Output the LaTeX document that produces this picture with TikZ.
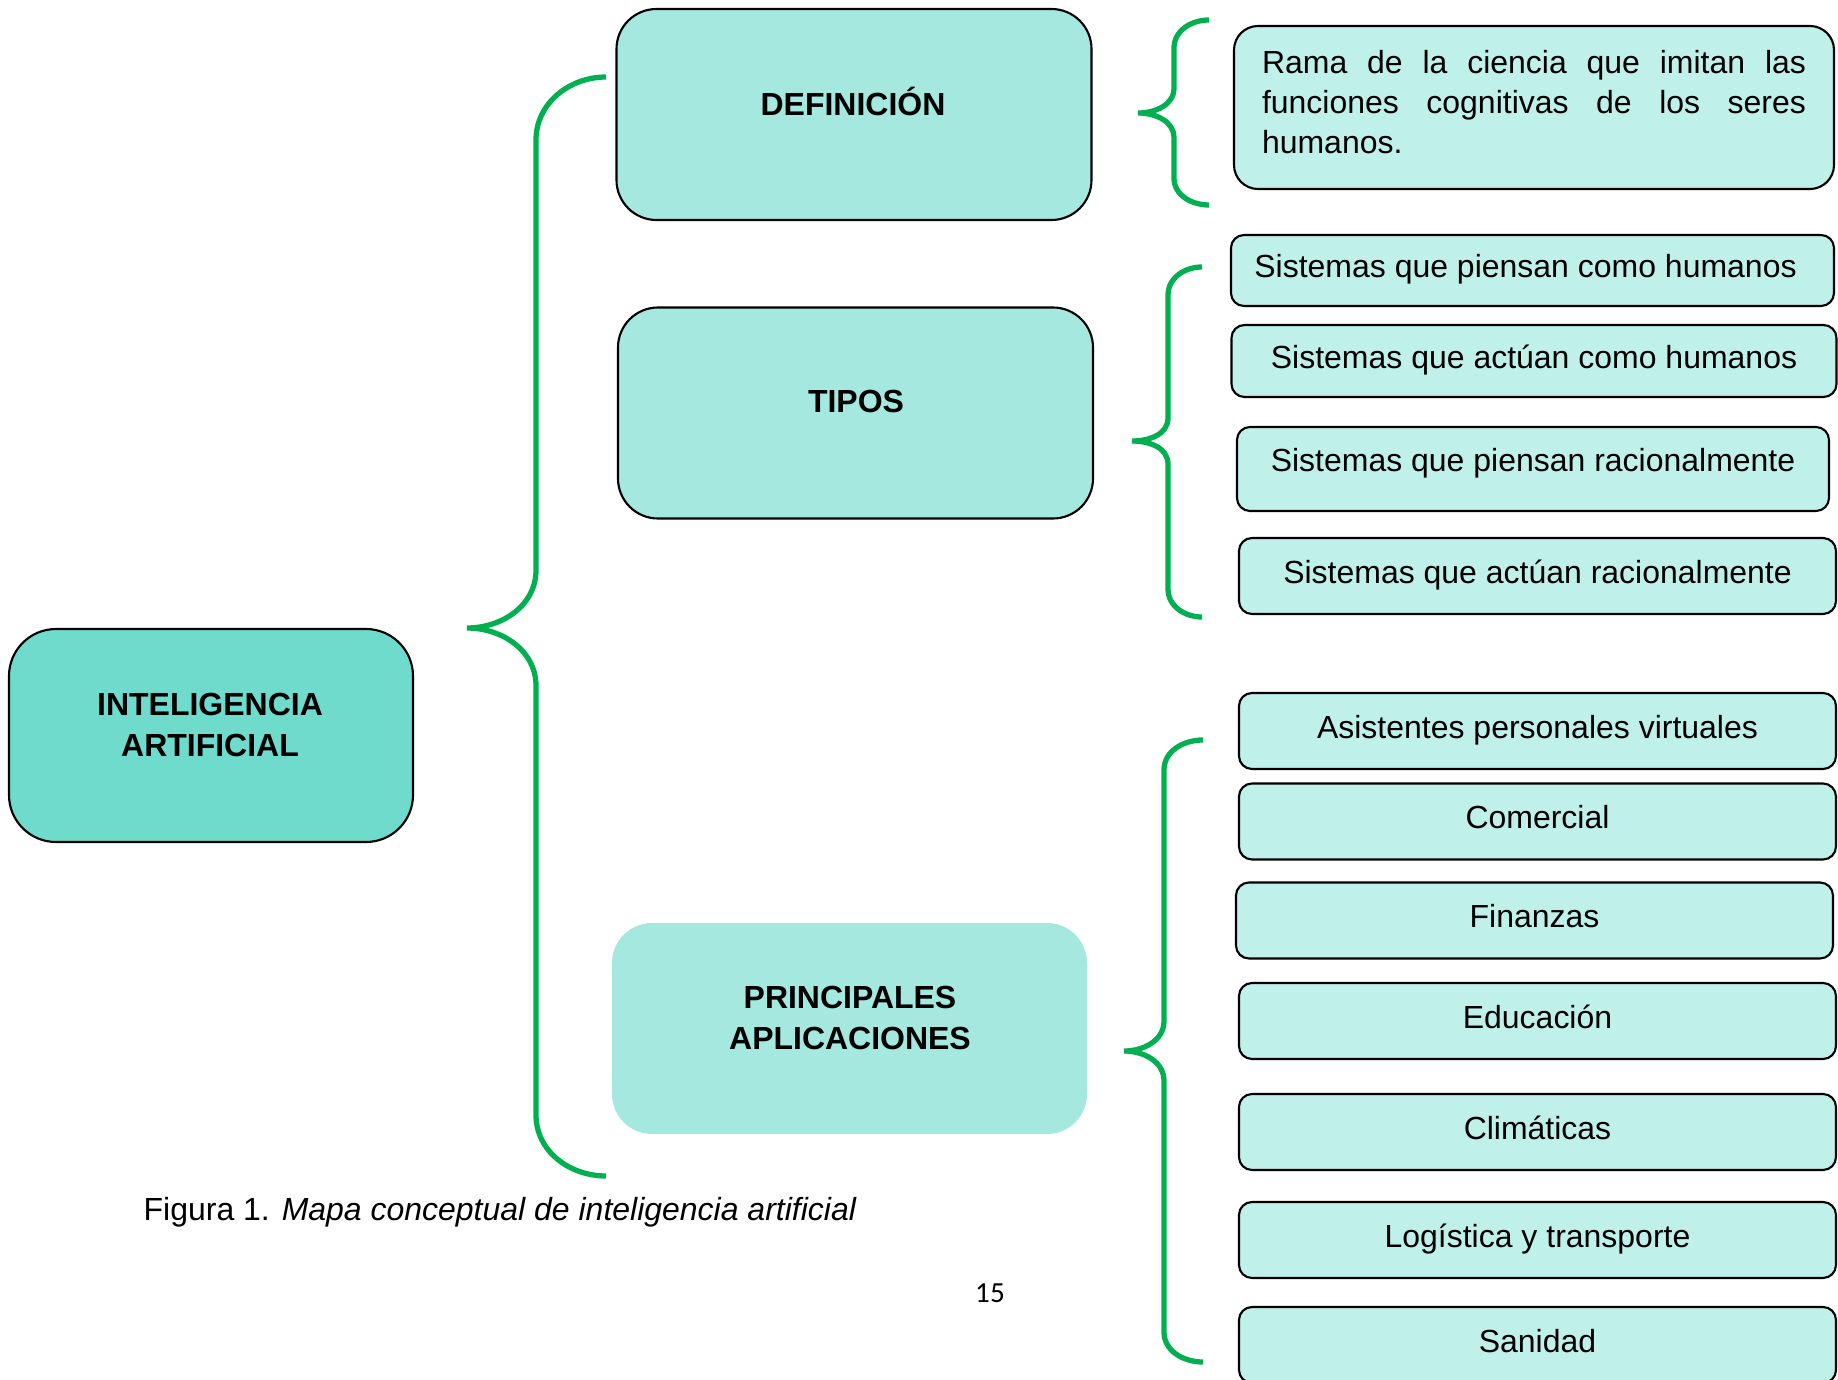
\documentclass[tikz,border=0pt]{standalone}
\usepackage{xcolor}
\usepackage{fontspec}
\setmainfont{Liberation Sans}
\newfontfamily\pagefont{Carlito}
\usepackage{tikz}
\usetikzlibrary{positioning}

\definecolor{iafill}{RGB}{111,219,204}
\definecolor{headfill}{RGB}{164,232,224}
\definecolor{itemfill}{RGB}{192,240,234}
\definecolor{bracegreen}{RGB}{0,176,80}

\newcommand{\boxfont}{\fontsize{9.1}{11.4}\selectfont}

\tikzset{
	iabox/.style={draw=black, line width=0.6pt, fill=iafill, rounded corners=0.47cm, minimum width=4.04cm, minimum height=2.13cm, inner sep=0},
	headbox/.style={draw=black, line width=0.6pt, fill=headfill, rounded corners=0.4cm, minimum width=4.75cm, minimum height=2.11cm, inner sep=0},
	headtext/.style={font=\boxfont\bfseries, align=center, inner sep=0},
	itembox/.style={draw=black, line width=0.6pt, fill=itemfill, rounded corners=0.13cm, minimum width=5.97cm, minimum height=0.76cm, inner sep=0, text height=0.75em, text depth=0.35em, font=\boxfont},
	brace/.style={draw=bracegreen, line width=1.5pt},
}

\begin{document}
\begin{tikzpicture}
	\clip (0,0) rectangle (18.38,-13.80);
	\fill[white] (0,0) rectangle (18.38,-13.80);

	% main concept
	\node[iabox] (ia) at (2.11,-7.355) {};
	\node[headtext] (ia-t) at (2.10,-7.25) {INTELIGENCIA\\ARTIFICIAL};

	\draw[brace] (6.06,-0.77) to[out=180,in=90] (5.36,-1.40) -- (5.36,-5.70) to[out=-90,in=0] (4.67,-6.28)
		to[out=0,in=90] (5.36,-6.86) -- (5.36,-11.15) to[out=-90,in=180] (6.06,-11.76);

	% headings
	\node[headbox] (def) at (8.54,-1.145) {};
	\node[headtext] (def-t) at (8.53,-1.01) {DEFINICIÓN};
	\node[headbox] (tipos) at (8.555,-4.13) {};
	\node[headtext] (tipos-t) at (8.56,-4.01) {TIPOS};
	\node[headbox, draw=none] (apps) at (8.495,-10.285) {};
	\node[headtext] (apps-t) at (8.50,-10.18) {PRINCIPALES\\APLICACIONES};

	% definicion
	\draw[brace] (12.09,-0.20) to[out=180,in=90] (11.74,-0.48) -- (11.74,-0.88) to[out=-90,in=0] (11.38,-1.13)
		to[out=0,in=90] (11.74,-1.38) -- (11.74,-1.78) to[out=-90,in=180] (12.09,-2.05);
	\node[itembox, rounded corners=0.24cm, text width=5.44cm, inner xsep=0.28cm, inner ysep=0, minimum height=1.63cm,
		text height=0.475cm, text depth=1.155cm, align=justify] (rama) at (15.34,-1.075)
		{Rama de la ciencia que imitan las\linebreak funciones cognitivas de los seres\linebreak humanos.};

	% tipos
	\draw[brace] (12.02,-2.67) to[out=180,in=90] (11.68,-2.95) -- (11.68,-4.18) to[out=-90,in=0] (11.32,-4.41)
		to[out=0,in=90] (11.68,-4.64) -- (11.68,-5.89) to[out=-90,in=180] (12.02,-6.17);
	\node[itembox, minimum width=6.03cm, minimum height=0.71cm] (t1) at (15.325,-2.705) {Sistemas que piensan como humanos\hspace*{0.14cm}};
	\node[itembox, minimum width=6.05cm, minimum height=0.72cm] (t2) at (15.34,-3.61) {Sistemas que actúan como humanos};
	\node[itembox, minimum width=5.92cm, minimum height=0.84cm] (t3) at (15.33,-4.69) {\raisebox{0.05cm}{Sistemas que piensan racionalmente}};
	\node[itembox] (t4) at (15.375,-5.76) {Sistemas que actúan racionalmente};

	% aplicaciones
	\draw[brace] (12.03,-7.40) to[out=180,in=90] (11.64,-7.70) -- (11.64,-10.21) to[out=-90,in=0] (11.24,-10.51)
		to[out=0,in=90] (11.64,-10.81) -- (11.64,-13.32) to[out=-90,in=180] (12.03,-13.62);
	\node[itembox] (a1) at (15.375,-7.31) {Asistentes personales virtuales};
	\node[itembox] (a2) at (15.375,-8.215) {Comercial};
	\node[itembox] (a3) at (15.345,-9.205) {Finanzas};
	\node[itembox] (a4) at (15.375,-10.21) {Educación};
	\node[itembox] (a5) at (15.375,-11.32) {Climáticas};
	\node[itembox] (a6) at (15.375,-12.40) {Logística y transporte};
	\node[itembox] (a7) at (15.375,-13.45) {Sanidad};

	% pie
	\node[anchor=west, inner sep=0, font=\boxfont] (cap) at (1.43,-12.12) {Figura 1. \textit{Mapa conceptual de inteligencia artificial}};
	\node[inner sep=0, font=\pagefont\fontsize{8.3}{10}\selectfont] (pag) at (9.90,-12.93) {15};
\end{tikzpicture}
\end{document}
